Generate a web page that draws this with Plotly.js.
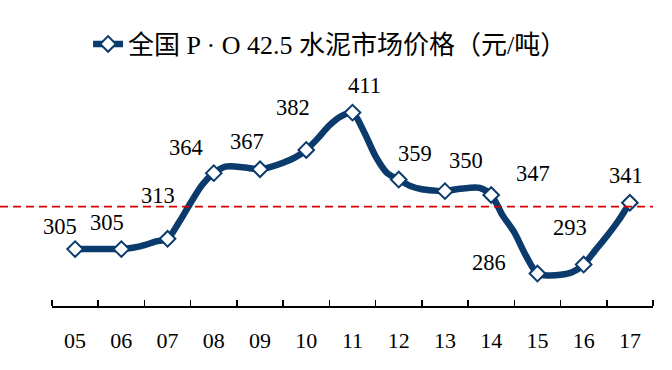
<!DOCTYPE html>
<html>
<head>
<meta charset="utf-8">
<script src="https://cdn.plot.ly/plotly-3.0.1.min.js"></script>
<style>html,body{margin:0;padding:0;background:#fff;}#chart{width:672px;height:370px;}</style>
</head>
<body>
<div id="chart"></div>
<script>
// ---- data ----
const years = ['05','06','07','08','09','10','11','12','13','14','15','16','17'];
const yearPrices = [305, 305, 313, 364, 367, 382, 411, 359, 350, 347, 286, 293, 341];
// quarterly path of the curve, starting at 05 and ending at 17 (4 points per year)
const quarterlyPrices = [
  305, 305, 305, 305,
  305, 306, 308, 311,
  313, 326, 341, 355,
  364, 369, 369, 368,
  367, 369, 372, 376,
  382, 391, 401, 408,
  411, 396, 377, 364,
  359, 354, 351.5, 350.5,
  350, 351.5, 352.5, 352.5,
  347, 331, 318, 300,
  286, 284.5, 285, 287,
  293, 304, 315, 327,
  341
];
const referenceLevel = 338;
const seriesName = '全国 P · O 42.5 水泥市场价格（元/吨）';

// ---- label placement (pixel offsets, style only) ----
const labelOffsets = [
  [-15, 23], [-14, 27], [-10, 43], [-28, 26], [-13, 28], [-13, 42], [12, 27],
  [16, 26], [21, 31], [42, 22], [-48, 11], [-14, 37], [-4, 27]
];

const navy = '#0b3a6c';
const serif = '"Liberation Serif", "Times New Roman", "Noto Sans CJK SC", serif';

const xq = quarterlyPrices.map((_, i) => i / 4);
const isYear = xq.map(v => Number.isInteger(v));

const trace = {
  x: xq,
  y: quarterlyPrices,
  type: 'scatter',
  mode: 'lines+markers',
  name: seriesName,
  line: {color: navy, width: 6.5, shape: 'spline', smoothing: 0.8},
  marker: {
    symbol: 'diamond',
    size: 12,
    color: isYear.map(f => f ? '#ffffff' : 'rgba(0,0,0,0)'),
    line: {color: isYear.map(f => f ? navy : 'rgba(0,0,0,0)'), width: 2}
  },
  hoverinfo: 'skip'
};

const annotations = yearPrices.map((v, i) => ({
  x: i, y: v, xref: 'x', yref: 'y',
  text: String(v), showarrow: false,
  xanchor: 'center', yanchor: 'middle',
  xshift: labelOffsets[i][0], yshift: labelOffsets[i][1],
  font: {family: serif, size: 22.5, color: '#000'}
}));

const layout = {
  width: 672, height: 370,
  margin: {l: 52, r: 19, t: 70, b: 63.5, pad: 0},
  paper_bgcolor: '#fff', plot_bgcolor: '#fff',
  showlegend: true,
  legend: {
    x: 0.06, xanchor: 'left', y: 1.11, yanchor: 'middle',
    orientation: 'h', bgcolor: 'rgba(0,0,0,0)',
    font: {family: serif, size: 26, color: '#000'}
  },
  xaxis: {
    range: [-0.5, 12.5],
    tickmode: 'array',
    tickvals: years.map((_, i) => i),
    ticktext: years,
    ticks: '',
    showgrid: false, zeroline: false,
    showline: true, linecolor: '#000', linewidth: 2,
    tickfont: {family: serif, size: 22, color: '#000'},
    ticklabelstandoff: 14,
    minor: {tick0: -0.5, dtick: 1, ticks: 'inside', ticklen: 6, tickwidth: 1.5, tickcolor: '#000', showgrid: false}
  },
  yaxis: {
    range: [260.8, 444.1],
    visible: false, showgrid: false, zeroline: false
  },
  shapes: [{
    type: 'line', xref: 'paper', x0: -0.0865, x1: 1, yref: 'y', y0: referenceLevel, y1: referenceLevel,
    line: {color: '#d40000', width: 1.8, dash: '8px,5px'}
  }],
  annotations: annotations
};

Plotly.newPlot('chart', [trace], layout, {staticPlot: true, displayModeBar: false});
</script>
</body>
</html>
